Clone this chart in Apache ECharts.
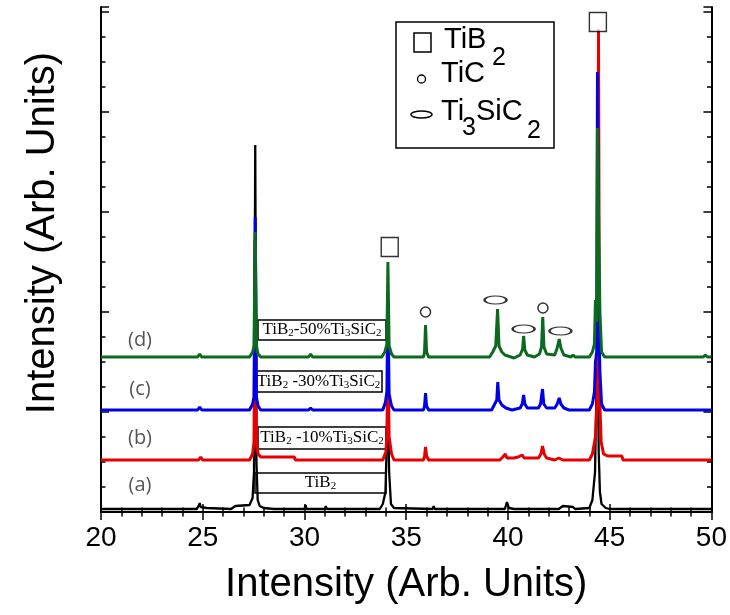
<!DOCTYPE html>
<html>
<head>
<meta charset="utf-8">
<script src="https://cdn.jsdelivr.net/npm/echarts@6/dist/echarts.min.js"></script>
<style>html,body{margin:0;padding:0;background:#fff;}#c{width:730px;height:615px;}</style>
</head>
<body>
<div id="c"></div>
<script>
// ---- data: [2theta, intensity (arb.)] ----
const xTicks = [20, 25, 30, 35, 40, 45, 50];
const traceA = [[20,3],[24.7,3],[24.8,6],[24.85,9],[24.9,5],[25.2,4],[26.4,3],[26.6,6],[27.3,7],[27.45,14],[27.52,40],[27.58,367],[27.64,50],[27.7,12],[27.8,6],[28.0,4],[28.5,3],
  [30.0,3],[30.05,7],[30.1,3],[31.0,3],[31.05,6],[31.1,3],[33.7,3],[33.85,8],[33.98,20],[34.1,112],[34.16,40],[34.25,8],[34.4,4],
  [36.3,3],[36.35,6],[36.4,3],[39.85,3],[39.95,10],[40.05,4],[40.3,3],[42.5,3],[42.7,6],[43.2,5],[43.3,3],[44.0,4],[44.15,12],[44.28,40],[44.4,182],[44.46,60],[44.52,20],[44.6,8],[44.8,4],[45.0,3],[50,3]];
const traceB = [[20,52],[24.8,52],[24.9,55],[25.0,52],
  [27.3,52],[27.45,58],[27.52,70],[27.58,272],[27.64,70],[27.72,58],[27.85,55],[29.5,55],[29.55,52],
  [33.85,52],[34.0,60],[34.05,75],[34.1,162],[34.16,75],[34.28,58],[34.4,52],
  [35.85,52],[35.9,56],[35.95,65],[36.0,56],[36.1,52],
  [39.6,52],[39.75,55],[39.87,58],[39.95,54],[40.3,54],[40.5,55],[40.7,57],[40.8,54],[41.5,54],[41.62,58],[41.7,66],[41.78,58],[41.9,54],[42.3,52],[42.5,54],[42.7,52],
  [44.0,52],[44.15,58],[44.3,75],[44.4,120],[44.45,483],[44.5,120],[44.58,70],[44.7,58],[44.9,56],[45.6,56],[45.65,52],[50,52]];
const traceC = [[20,102],[24.75,102],[24.85,105],[24.95,102],
  [27.3,102],[27.45,108],[27.52,115],[27.58,295],[27.64,115],[27.72,106],[27.85,102],
  [30.2,102],[30.3,104],[30.4,102],
  [33.85,102],[33.98,110],[34.05,120],[34.1,212],[34.16,118],[34.28,106],[34.4,102],
  [35.85,102],[35.9,106],[35.95,119],[36.0,106],[36.1,102],
  [39.2,102],[39.35,108],[39.45,112],[39.5,130],[39.56,112],[39.7,107],[39.9,104],[40.2,102],[40.6,104],[40.7,108],[40.77,117],[40.83,108],[40.95,104],[41.5,104],[41.6,108],[41.7,123],[41.76,108],[41.9,104],[42.3,104],[42.42,108],[42.52,114],[42.6,108],[42.75,104],[43.0,102],
  [44.0,102],[44.15,108],[44.25,120],[44.3,150],[44.36,160],[44.4,440],[44.46,200],[44.52,140],[44.6,108],[44.75,102],[50,102]];
const traceD = [[20,155],[24.75,155],[24.85,158],[24.95,155],
  [27.3,155],[27.45,160],[27.52,166],[27.58,280],[27.64,166],[27.72,158],[27.85,155],
  [30.2,155],[30.3,158],[30.4,155],
  [33.8,155],[33.95,160],[34.05,168],[34.1,250],[34.16,166],[34.28,158],[34.4,155],
  [35.15,155],[35.2,157],[35.25,155],
  [35.85,155],[35.9,160],[35.95,187],[36.0,160],[36.1,155],
  [37.0,155],[37.08,157],[37.15,155],
  [39.1,155],[39.25,160],[39.4,166],[39.49,203],[39.56,166],[39.7,160],[39.85,157],[40.3,154],
  [40.6,157],[40.72,163],[40.77,176],[40.83,162],[40.95,157],[41.3,155],[41.55,158],[41.65,165],[41.71,195],[41.77,165],[41.9,158],[42.3,157],[42.42,164],[42.52,173],[42.6,164],[42.75,157],[43.1,155],[43.2,157],[43.3,155],
  [44.0,155],[44.15,160],[44.25,168],[44.3,212],[44.36,190],[44.4,384],[44.46,285],[44.52,200],[44.6,160],[44.75,155],[49.6,155],[49.7,157],[49.8,155],[50,155]];
// phase markers [2theta, height]
const tib2Marks = [[34.19,265],[44.42,490]];
const ticMarks = [[35.95,200],[41.72,204]];
const ti3sic2Marks = [[39.39,212],[40.77,183],[42.58,181]];
const traceLabels = ['(a)', '(b)', '(c)', '(d)'];

const FONT = 'Liberation Sans, Arial, sans-serif';
const SERIF = 'Liberation Serif, Times New Roman, serif';

const chart = echarts.init(document.getElementById('c'), null, {renderer: 'canvas'});

function axisCommon(showLabel) {
  return {
    axisLine: {show: true, lineStyle: {color: '#000', width: 2}},
    axisTick: {show: true, inside: true, length: 8, lineStyle: {color: '#000', width: 1.5}},
    minorTick: {show: true, length: 4.5, lineStyle: {color: '#000', width: 1.5}},
    splitLine: {show: false},
    axisLabel: {show: showLabel}
  };
}

const xBottom = Object.assign(axisCommon(true), {
  type: 'value', position: 'bottom', min: 20, max: 50, interval: 5,
  name: 'Intensity (Arb. Units)', nameLocation: 'middle', nameGap: 53,
  nameTextStyle: {fontFamily: FONT, fontSize: 40, color: '#000'},
  axisLabel: {show: true, fontFamily: FONT, fontSize: 28, color: '#000', margin: 12,
    customValues: xTicks}
});
xBottom.minorTick.splitNumber = 5;
const xTop = Object.assign(axisCommon(false), {type: 'value', position: 'top', min: 20, max: 50, interval: 5});
xTop.minorTick.splitNumber = 5;
const yLeft = Object.assign(axisCommon(false), {type: 'value', position: 'left', min: 0, max: 505, interval: 100});
yLeft.minorTick.splitNumber = 4;
const yRight = Object.assign(axisCommon(false), {type: 'value', position: 'right', min: 0, max: 505, interval: 100});
yRight.minorTick.splitNumber = 4;

function lineSeries(data, color, width) {
  return {type: 'line', data: data, showSymbol: false, symbol: 'none', xAxisIndex: 0, yAxisIndex: 0,
    lineStyle: {color: color, width: width}, itemStyle: {color: color}, z: 2};
}
function markSeries(data, symbol, size) {
  return {type: 'scatter', data: data, symbol: symbol, symbolSize: size, xAxisIndex: 0, yAxisIndex: 0, z: 5,
    itemStyle: {color: '#fff', borderColor: '#000', borderWidth: 1.5}};
}

const subRich = {
  n: {fontFamily: SERIF, fontSize: 17, lineHeight: 18, color: '#000'},
  s: {fontFamily: SERIF, fontSize: 11, lineHeight: 10, verticalAlign: 'bottom', color: '#000'}
};
function boxLabel(x, y, w, h, text) {
  return {type: 'group', z: 20, children: [
    {type: 'rect', shape: {x: x, y: y, width: w, height: h}, style: {fill: '#fff', stroke: '#000', lineWidth: 1.5}},
    {type: 'text', x: x + w / 2, y: y + h / 2, style: {text: text, rich: subRich, align: 'center', verticalAlign: 'middle', textAlign: 'center', textVerticalAlign: 'middle'}}
  ]};
}
function t(x, y, text, size, opts) {
  return Object.assign({type: 'text', x: x, y: y, z: 21, style: Object.assign({text: text, font: size + 'px ' + FONT, fill: '#000',
    align: 'left', verticalAlign: 'middle', textAlign: 'left', textVerticalAlign: 'middle'}, opts || {})});
}

const graphics = [
  // y axis title
  {type: 'text', x: 43, y: 233, rotation: Math.PI / 2, z: 21,
    style: {text: 'Intensity (Arb. Units)', font: '40px ' + FONT, fill: '#000', align: 'center', verticalAlign: 'middle', textAlign: 'center', textVerticalAlign: 'middle'}},
  // legend box
  {type: 'rect', z: 20, shape: {x: 396, y: 22, width: 158, height: 126}, style: {fill: '#fff', stroke: '#000', lineWidth: 1.5}},
  {type: 'rect', z: 21, shape: {x: 414, y: 33, width: 17, height: 19}, style: {fill: '#fff', stroke: '#000', lineWidth: 1.5}},
  {type: 'circle', z: 21, shape: {cx: 421.5, cy: 79, r: 4}, style: {fill: '#fff', stroke: '#000', lineWidth: 1.3}},
  {type: 'ellipse', z: 21, shape: {cx: 421.5, cy: 114.5, rx: 10.5, ry: 3.5}, style: {fill: '#fff', stroke: '#000', lineWidth: 1.5}},
  t(444, 40, 'TiB', 29), t(492, 58, '2', 25),
  t(441, 73.5, 'TiC', 29),
  t(441, 111.5, 'Ti', 29), t(462, 128, '3', 25), t(476, 111.5, 'SiC', 29), t(527, 131.5, '2', 25),
  // trace boxes
  boxLabel(258, 320, 128, 20, '{n|TiB}{s|2}{n|-50%Ti}{s|3}{n|SiC}{s|2}'),
  boxLabel(255, 371, 127, 21, '{n|TiB}{s|2}{n| -30%Ti}{s|3}{n|SiC}{s|2}'),
  boxLabel(258, 427, 128, 22, '{n|TiB}{s|2}{n| -10%Ti}{s|3}{n|SiC}{s|2}'),
  boxLabel(255, 473, 131, 20, '{n|TiB}{s|2}')
];
const labelY = [485, 438, 389, 340];
traceLabels.forEach(function (lab, i) {
  graphics.push({type: 'text', x: 140, y: labelY[i], z: 21,
    style: {text: lab, font: '20px Open Sans, Noto Sans, sans-serif', fill: '#555555', align: 'center', verticalAlign: 'middle', textAlign: 'center', textVerticalAlign: 'middle'}});
});

chart.setOption({
  animation: false,
  backgroundColor: '#fff',
  grid: {left: 101, right: 18, top: 7, bottom: 103, containLabel: false},
  xAxis: [xBottom, xTop],
  yAxis: [yLeft, yRight],
  series: [
    lineSeries(traceA, '#000000', 2.3),
    lineSeries(traceB, '#e60000', 3),
    lineSeries(traceC, '#0000e6', 3),
    lineSeries(traceD, '#0b6a1e', 3),
    markSeries(tib2Marks, 'rect', [17, 19]),
    markSeries(ticMarks, 'circle', [10, 10]),
    markSeries(ti3sic2Marks, 'circle', [22, 8])
  ],
  graphic: graphics
});
</script>
</body>
</html>
